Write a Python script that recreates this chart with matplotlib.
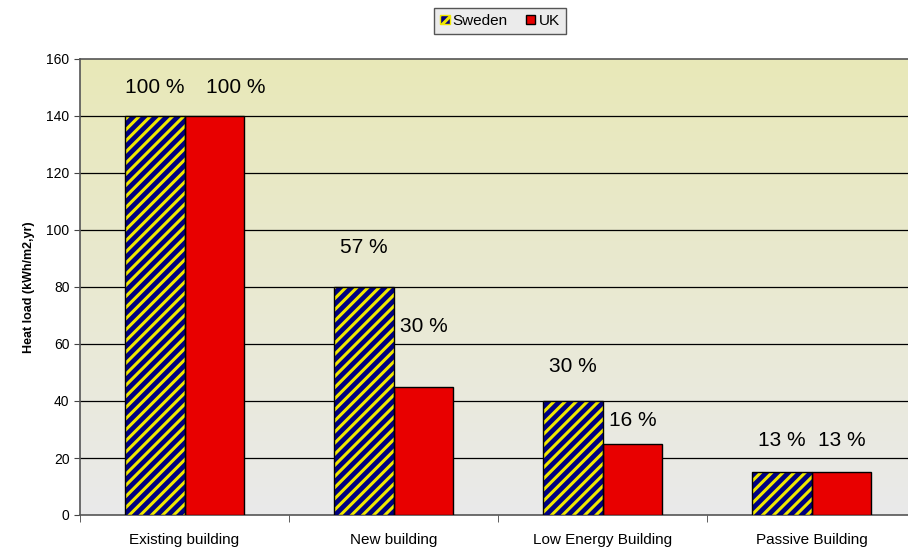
import numpy as np
import matplotlib
matplotlib.use('Agg')
import matplotlib.pyplot as plt
from matplotlib.patches import Patch

categories = ['Existing building', 'New building', 'Low Energy Building', 'Passive Building']
sweden = [140, 80, 40, 15]
uk = [140, 45, 25, 15]
sweden_pct = ['100 %', '57 %', '30 %', '13 %']
uk_pct = ['100 %', '30 %', '16 %', '13 %']
# label heights above each bar (data units)
sweden_lift = [10, 14, 12, 11]
uk_lift = [10, 21, 8, 11]
uk_dx = [0.1, 0, 0, 0]

plt.rcParams['font.family'] = ['Liberation Sans', 'DejaVu Sans']
plt.rcParams['hatch.linewidth'] = 2.2
plt.rcParams['hatch.color'] = '#f0e800'

fig = plt.figure(figsize=(9.08, 5.55), dpi=100)
ax = fig.add_axes([80/908, 1 - 515/555, 836/908, (515 - 59)/555])

x = np.arange(len(categories))
w = 0.287

# gradient background
top = np.array([232, 232, 184]) / 255
bot = np.array([234, 234, 234]) / 255
t = np.linspace(0, 1, 256)[:, None]
grad = (top * (1 - t) + bot * t)[:, None, :]
ax.imshow(grad, extent=[-0.5, 3.5, 0, 160], aspect='auto', zorder=0, origin='upper')

ax.bar(x - w/2, sweden, w, color='#000080', edgecolor='#f0e800', hatch='///',
       linewidth=0, zorder=3)
ax.bar(x - w/2, sweden, w, facecolor='none', edgecolor='black', linewidth=1, zorder=4)
ax.bar(x + w/2, uk, w, color='#e80000', edgecolor='black', linewidth=1, zorder=3)

for i in range(len(categories)):
    ax.text(x[i] - w/2, sweden[i] + sweden_lift[i], sweden_pct[i], ha='center',
            va='center', fontsize=15, zorder=5)
    ax.text(x[i] + w/2 + uk_dx[i], uk[i] + uk_lift[i], uk_pct[i], ha='center',
            va='center', fontsize=15, zorder=5)

ax.set_xlim(-0.5, 3.5)
ax.set_ylim(0, 160)
ax.set_yticks(np.arange(0, 161, 20))
for yv in range(20, 160, 20):
    ax.axhline(yv, color='black', linewidth=0.9, zorder=1)
ax.tick_params(axis='y', direction='out', length=4, labelsize=10, colors='#444444',
               labelcolor='black')
ax.set_xticks(x)
ax.set_xticklabels(categories, fontsize=11)
ax.set_xticks(np.arange(-0.5, 3.6, 1), minor=True)
ax.tick_params(axis='x', which='major', length=0, pad=13)
ax.tick_params(axis='x', which='minor', length=5, color='#444444')
ax.set_ylabel('Heat load (kWh/m2,yr)', fontsize=9, fontweight='bold', labelpad=8)

for s in ['left', 'bottom', 'top']:
    ax.spines[s].set_color('#555555')
    ax.spines[s].set_linewidth(1.2)
ax.spines['right'].set_visible(False)

handles = [Patch(facecolor='#000080', edgecolor='#f0e800', hatch='///', label='Sweden'),
           Patch(facecolor='#e80000', edgecolor='black', label='UK')]
leg = fig.legend(handles=handles, loc='center', bbox_to_anchor=(500/908, 1 - 21/555),
                 ncol=2, fontsize=11, frameon=True, fancybox=False,
                 handlelength=0.6, handleheight=0.6, handletextpad=0.2,
                 columnspacing=1.2, borderpad=0.4, borderaxespad=0)
leg.get_frame().set_facecolor('#ebebeb')
leg.get_frame().set_edgecolor('#555555')
leg.get_frame().set_alpha(1)

fig.savefig('out.png', dpi=100)
